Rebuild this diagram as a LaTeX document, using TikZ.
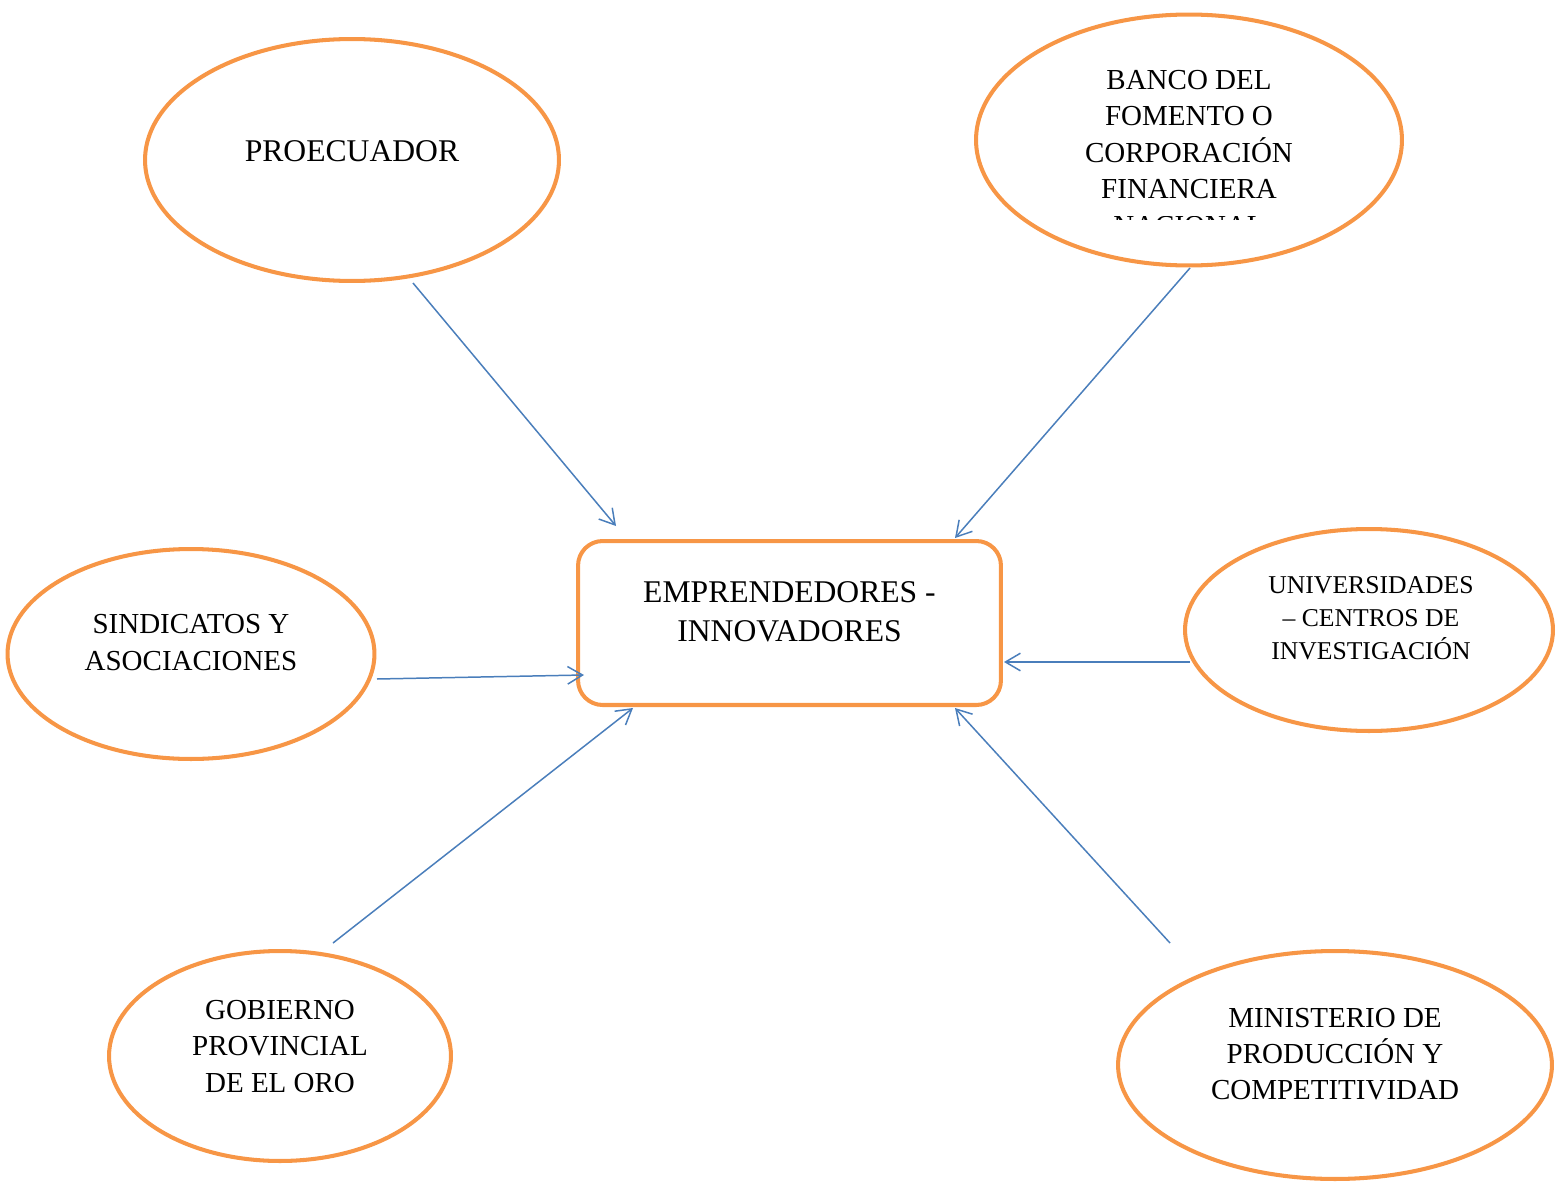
\documentclass[tikz,border=0pt]{standalone}
\usepackage{fontspec}
\setmainfont{Liberation Serif}
\usetikzlibrary{shapes.geometric,arrows.meta}
\definecolor{ora}{RGB}{247,150,70}
\definecolor{blu}{RGB}{74,126,187}
\begin{document}
\begin{tikzpicture}[x=0.02cm,y=-0.02cm,
  ell/.style={ellipse,draw=ora,line width=2.3pt,inner sep=0pt},
  txt/.style={align=center,inner sep=0pt,font=\fontsize{16.5}{20.7}\selectfont},
  arr/.style={draw=blu,line width=0.85pt,-{Straight Barb[length=8.5pt,width=10pt]}}]
\useasboundingbox (0,0) rectangle (1556,1183);

% shapes
\node[ell,minimum width=8.28cm,minimum height=4.84cm] (proe) at (352,160) {};
\node[ell,minimum width=8.52cm,minimum height=5.02cm] (banco) at (1189,140) {};
\node[ell,minimum width=7.34cm,minimum height=4.2cm] (sind) at (191,654) {};
\node[ell,minimum width=7.36cm,minimum height=4.04cm] (univ) at (1369,630) {};
\node[ell,minimum width=6.84cm,minimum height=4.2cm] (gob) at (280,1056) {};
\node[ell,minimum width=8.68cm,minimum height=4.56cm] (mini) at (1335,1065) {};
\node[draw=ora,line width=2.3pt,rounded corners=14pt,minimum width=8.46cm,minimum height=3.28cm,inner sep=0pt] (emp) at (789.5,623) {};

% texts
\node[txt,font=\fontsize{18}{22}\selectfont] (tproe) at (352,151) {PROECUADOR};
\node[txt] (tbanco) at (1189,134.5) {BANCO DEL\\FOMENTO O\\CORPORACIÓN\\FINANCIERA};
\begin{scope}
  \clip (1000,216) rectangle (1380,219);
  \node[txt] (tnac) at (1189,226) {NACIONAL};
\end{scope}
\node[txt,font=\fontsize{18}{22}\selectfont] (temp) at (789.5,611.5) {EMPRENDEDORES -\\INNOVADORES};
\node[txt] (tsind) at (191,642.5) {SINDICATOS Y\\ASOCIACIONES};
\node[txt,font=\fontsize{14.6}{18.7}\selectfont] (tuniv) at (1371,618) {UNIVERSIDADES\\– CENTROS DE\\INVESTIGACIÓN};
\node[txt] (tgob) at (280,1046.5) {GOBIERNO\\PROVINCIAL\\DE EL ORO};
\node[txt] (tmini) at (1335,1054) {MINISTERIO DE\\PRODUCCIÓN Y\\COMPETITIVIDAD};

% connector ends
\coordinate (a1) at (413,283);  \coordinate (b1) at (616,526);
\coordinate (a2) at (1190,268); \coordinate (b2) at (955,538);
\coordinate (a3) at (377,679);  \coordinate (b3) at (584,675);
\coordinate (a4) at (1190,662); \coordinate (b4) at (1004,662);
\coordinate (a5) at (333,943);  \coordinate (b5) at (633,708);
\coordinate (a6) at (1170,943); \coordinate (b6) at (955,708);

\draw[arr] (a1) -- (b1);
\draw[arr] (a2) -- (b2);
\draw[arr] (a3) -- (b3);
\draw[arr] (a4) -- (b4);
\draw[arr] (a5) -- (b5);
\draw[arr] (a6) -- (b6);
\end{tikzpicture}
\end{document}
